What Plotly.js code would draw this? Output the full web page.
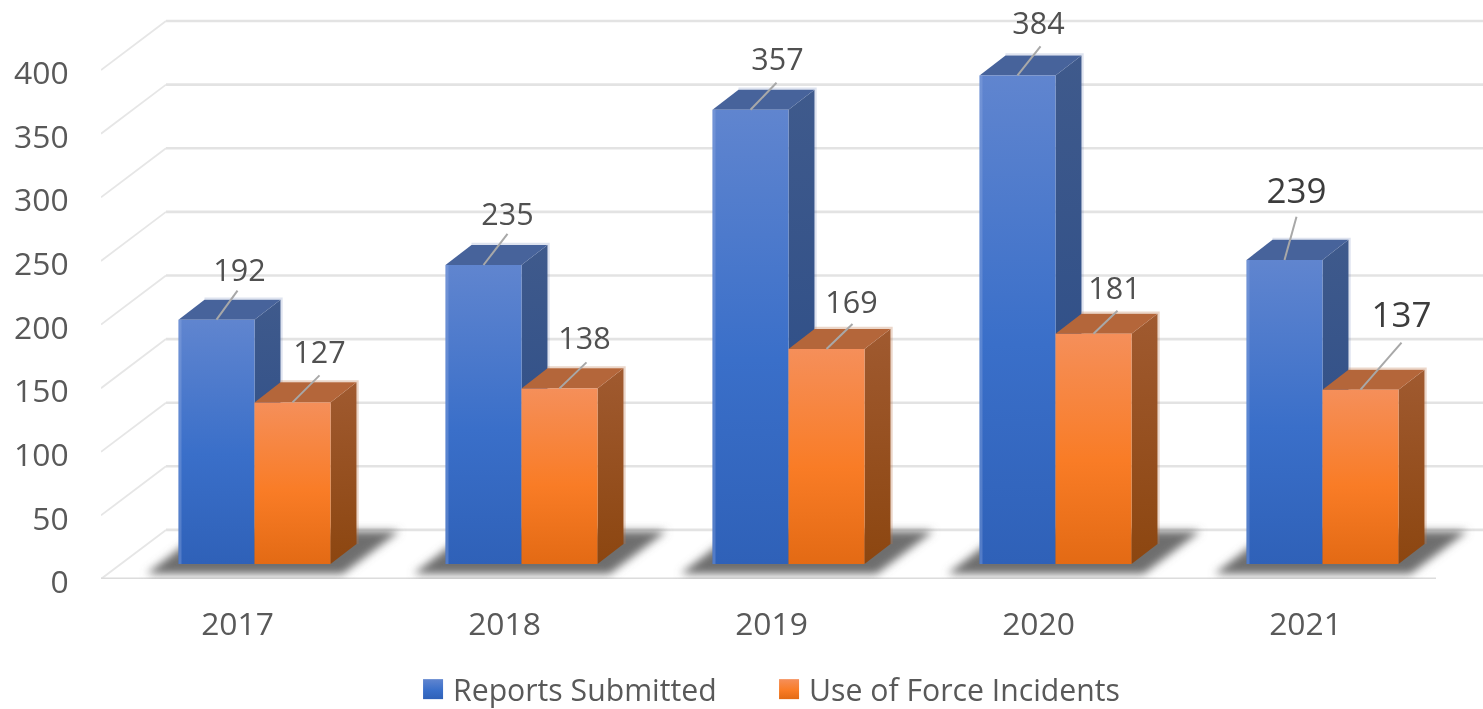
<!DOCTYPE html>
<html><head><meta charset="utf-8">
<script src="https://cdn.plot.ly/plotly-3.0.1.min.js"></script>
<style>html,body{margin:0;padding:0;background:#fff;overflow:hidden}#gd{width:1483px;height:709px;filter:blur(0.7px)}</style>
</head><body><div id="gd"></div>
<script>
// ---- data ----
const years = ['2017','2018','2019','2020','2021'];
const reports = [192,235,357,384,239];
const incidents = [127,138,169,181,137];
const valueTicks = [0,50,100,150,200,250,300,350,400];
const seriesNames = ['Reports Submitted','Use of Force Incidents'];
// leader-line and label offsets from the top of each bar, in pixels
const reportLeader = [[21,-29],[24,-31],[26,-27],[23,-29],[12,-43]];
const reportLabel  = [[23,-46],[24,-48],[27,-47],[21,-49],[12,-66]];
const incidentLeader = [[27,-27],[27,-26],[26,-25],[24,-23],[41,-47]];
const incidentLabel  = [[27,-47],[25,-47],[25,-44],[21,-42],[41,-71]];

// ---- projection ----
const PXX = 267, PXY = 1.27;
const ux = p => p / PXX, uy = p => p / PXY;
const barW = ux(76), shift = ux(20), baseV = uy(15);
const depthX = ux(26), depthY = uy(20);
const wallX = ux(65), wallY = uy(49);
const idx = years.map((_, i) => i);

const C = {
  blue:'#3a6dc6', orange:'#f47b26',
  blueTop:'#47639b', orangeTop:'#b4663a',
  blueSide:'#3a5689', orangeSide:'#99521f',
  shadow:'#6e6e6e'
};
const traces = [];

// back wall & side wall grid
const gx=[], gy=[], dx=[], dy=[];
valueTicks.forEach(v => {
  gx.push(-0.5+wallX, 4.68, null); gy.push(v+wallY, v+wallY, null);
  dx.push(-0.5, -0.5+wallX, null); dy.push(v, v+wallY, null);
});
traces.push({type:'scatter',mode:'lines',x:gx,y:gy,line:{color:'#e3e3e3',width:2.6},showlegend:false,hoverinfo:'skip',zorder:0});
traces.push({type:'scatter',mode:'lines',x:dx,y:dy,line:{color:'#e6e6e6',width:1.8},showlegend:false,hoverinfo:'skip',zorder:0});
traces.push({type:'scatter',mode:'lines',x:[-0.5,4.5],y:[0,0],line:{color:'#dcdcdc',width:3},showlegend:false,hoverinfo:'skip',cliponaxis:false,zorder:0});

// floor shadows
idx.forEach(i => {
  const c = i + shift;
  traces.push({type:'scatter',mode:'lines',fill:'toself',fillcolor:C.shadow,line:{width:0},
    x:[c-ux(108),c+ux(88),c+ux(145),c-ux(52),c-ux(108)],
    y:[uy(5),uy(5),uy(48),uy(48),uy(5)],showlegend:false,hoverinfo:'skip',zorder:0});
});

function solids(values, left, topCol, sideCol, halo, z){
  values.forEach((v,i) => {
    const x0 = i + left, x1 = x0 + barW, top = baseV + v;
    // pale halo along the back edges of the solid
    const hx = ux(1), hy = uy(1);
    traces.push({type:'scatter',mode:'lines',line:{color:halo,width:2.4},
      x:[x1+depthX+hx,x1+depthX+hx,x0+depthX],y:[baseV+depthY,top+depthY+hy,top+depthY+hy],
      showlegend:false,hoverinfo:'skip',zorder:z});
    traces.push({type:'scatter',mode:'lines',fill:'toself',fillcolor:sideCol,line:{width:0},
      x:[x1,x1+depthX,x1+depthX,x1,x1],y:[baseV,baseV+depthY,top+depthY,top,baseV],
      showlegend:false,hoverinfo:'skip',zorder:z});
    traces.push({type:'scatter',mode:'lines',fill:'toself',fillcolor:topCol,line:{width:0},
      x:[x0,x1,x1+depthX,x0+depthX,x0],y:[top,top,top+depthY,top+depthY,top],
      showlegend:false,hoverinfo:'skip',zorder:z});
  });
}
solids(reports, shift-barW, C.blueTop, C.blueSide, 'rgba(70,100,165,0.18)', 1);
solids(incidents, shift, C.orangeTop, C.orangeSide, 'rgba(190,120,75,0.3)', 3);

function bars(values,name,col,off,z){
  traces.push({type:'bar',name,x:idx,y:values,base:values.map(()=>baseV),width:barW,offset:off,
    marker:{color:col,line:{width:0}},hoverinfo:'skip',zorder:z});
}
bars(reports,seriesNames[0],C.blue,shift-barW,2);
bars(incidents,seriesNames[1],C.orange,shift,4);

// lighter left edge on the blue fronts
(function(){
  const ex=[],ey=[];
  reports.forEach((v,i)=>{const x0=i+shift-barW+ux(1.5);ex.push(x0,x0,null);ey.push(baseV,baseV+v,null);});
  traces.push({type:'scatter',mode:'lines',x:ex,y:ey,line:{color:'rgba(150,175,225,0.35)',width:3},showlegend:false,hoverinfo:'skip',zorder:2});
})();

// leader lines and labels
function labels(values,left,lead,lab){
  const lx=[],ly=[];
  values.forEach((v,i)=>{
    const cx=i+left+barW/2, t=baseV+v;
    lx.push(cx,cx+ux(lead[i][0]),null); ly.push(t,t-uy(lead[i][1]),null);
  });
  traces.push({type:'scatter',mode:'lines',x:lx,y:ly,line:{color:'#a8a8a8',width:2},showlegend:false,hoverinfo:'skip',zorder:5});
  idx.forEach(i=>{
    const last = i===idx.length-1;
    traces.push({type:'scatter',mode:'text',x:[i+left+barW/2+ux(lab[i][0])],y:[baseV+values[i]-uy(lab[i][1])],
      text:[String(values[i])],textposition:'middle center',
      textfont:{family:'"Open Sans",sans-serif',size:last?35:30.5,color:last?'#3c3c3c':'#505050'},
      showlegend:false,hoverinfo:'skip',cliponaxis:false,zorder:5});
  });
}
labels(reports,shift-barW,reportLeader,reportLabel);
labels(incidents,shift,incidentLeader,incidentLabel);

const layout = {
  width:1483,height:709,margin:{l:101,r:0,t:0,b:0},
  paper_bgcolor:'#fff',plot_bgcolor:'#fff',barmode:'overlay',
  font:{family:'"Open Sans",sans-serif',size:30,color:'#595959'},
  xaxis:{type:'linear',range:[-0.5,4.676],tickmode:'array',tickvals:idx,ticktext:years,showgrid:false,zeroline:false,showline:false,
    ticks:'outside',ticklen:17,tickcolor:'rgba(0,0,0,0)',tickfont:{size:31.8,color:'#595959'},ticklabelshift:3},
  yaxis:{type:'linear',domain:[130/709,1],range:[0,455.1],tickmode:'array',tickvals:valueTicks,showgrid:false,zeroline:false,showline:false,
    ticks:'outside',ticklen:25,tickcolor:'rgba(0,0,0,0)',tickfont:{size:31.8,color:'#595959'},ticklabelshift:3},
  legend:{orientation:'h',x:0.2258,xanchor:'left',y:0,yanchor:'bottom',font:{size:30.2,color:'#595959'},
    traceorder:'normal',itemclick:false,itemdoubleclick:false,entrywidth:311,entrywidthmode:'pixels',bgcolor:'rgba(0,0,0,0)'},
  showlegend:true
};

const NS='http://www.w3.org/2000/svg';
function rgb(h){return 'rgb('+[1,3,5].map(i=>parseInt(h.substr(i,2),16)).join(', ')+')';}
const grads = {
  [C.blue]:[[0,'#6085cf'],[0.55,'#3a6fc9'],[1,'#2f61b8']],
  [C.orange]:[[0,'#f58f5a'],[0.55,'#f97c26'],[1,'#e36a14']],
  [C.blueSide]:[[0,'#3f5a8c'],[1,'#284a86']],
  [C.orangeSide]:[[0,'#a05a30'],[1,'#8c4610']]
};
Plotly.newPlot('gd',traces,layout,{displayModeBar:false}).then(gd=>{
  const svg=gd.querySelector('.main-svg');
  let defs=svg.querySelector('defs');
  const map={};
  Object.keys(grads).forEach((k,n)=>{
    const g=document.createElementNS(NS,'linearGradient');
    g.setAttribute('id','fg'+n);g.setAttribute('x1','0');g.setAttribute('y1','0');g.setAttribute('x2','0');g.setAttribute('y2','1');
    grads[k].forEach(s=>{const t=document.createElementNS(NS,'stop');t.setAttribute('offset',s[0]);t.setAttribute('stop-color',s[1]);g.appendChild(t);});
    defs.appendChild(g);
    map[rgb(k)]='url(#fg'+n+')';
  });
  const f=document.createElementNS(NS,'filter');
  f.setAttribute('id','shadowblur');f.setAttribute('x','-30%');f.setAttribute('y','-30%');f.setAttribute('width','160%');f.setAttribute('height','160%');
  const b=document.createElementNS(NS,'feGaussianBlur');b.setAttribute('stdDeviation','4');f.appendChild(b);defs.appendChild(f);

  gd.querySelectorAll('.bars path, .js-fill').forEach(p=>{
    const c=p.style.fill;
    if(map[c]) p.style.fill=map[c];
    if(c===rgb(C.shadow)) p.style.filter='url(#shadowblur)';
  });
  gd.querySelectorAll('.legend .legendpoints path').forEach(p=>{
    const c=p.style.fill;
    if(map[c]) p.style.fill=map[c];
    p.setAttribute('d','M10,10H-10V-10H10Z');
  });
  // nudge the legend down to its place in the reference
  const lg=gd.querySelector('.legend');
  const m=/translate\(([^,]+),\s*([^)]+)\)/.exec(lg.getAttribute('transform'));
  if(m) lg.setAttribute('transform','translate('+m[1]+','+(parseFloat(m[2])+7)+')');
});
</script></body></html>
